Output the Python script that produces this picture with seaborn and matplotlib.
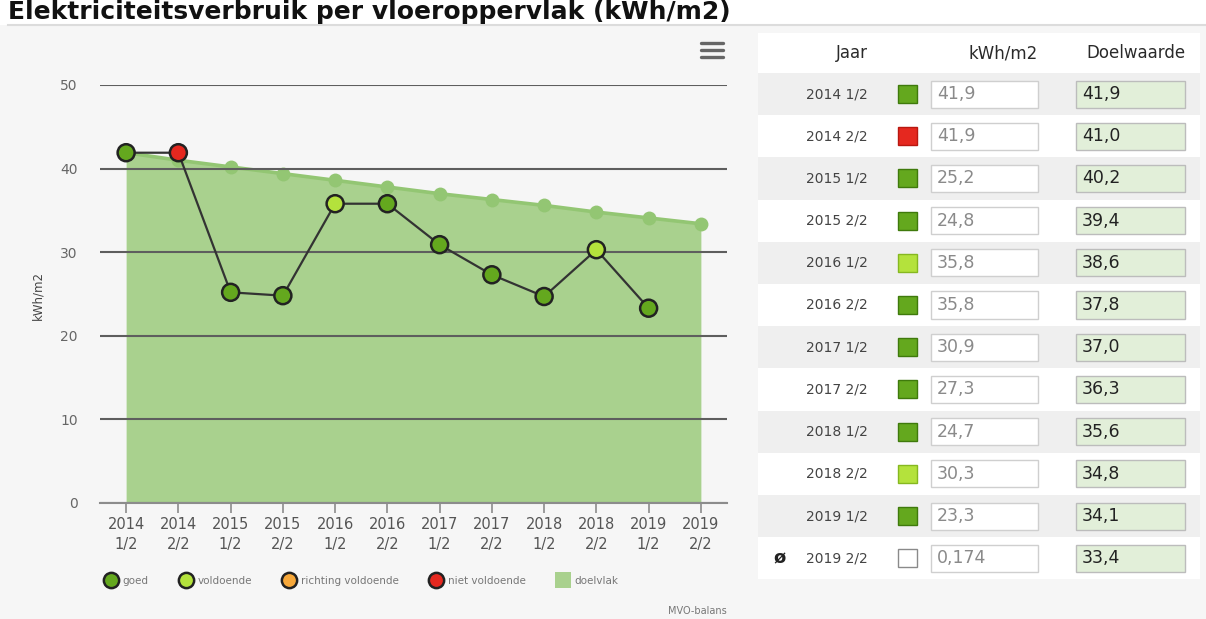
import numpy as np
import pandas as pd
import matplotlib
matplotlib.use("Agg")
import matplotlib.pyplot as plt
import seaborn as sns
from matplotlib.patches import Rectangle
from matplotlib.lines import Line2D

# ---------------- data ----------------
title = "Elektriciteitsverbruik per vloeroppervlak (kWh/m2)"
periods = ["2014 1/2", "2014 2/2", "2015 1/2", "2015 2/2", "2016 1/2", "2016 2/2",
           "2017 1/2", "2017 2/2", "2018 1/2", "2018 2/2", "2019 1/2", "2019 2/2"]
kwh = [41.9, 41.9, 25.2, 24.8, 35.8, 35.8, 30.9, 27.3, 24.7, 30.3, 23.3, 0.174]
doel = [41.9, 41.0, 40.2, 39.4, 38.6, 37.8, 37.0, 36.3, 35.6, 34.8, 34.1, 33.4]
status = ["goed", "niet voldoende", "goed", "goed", "voldoende", "goed",
          "goed", "goed", "goed", "voldoende", "goed", "verborgen"]
hidden = [False] * 11 + [True]
y_ticks = [0, 10, 20, 30, 40, 50]
legend_labels = ["goed", "voldoende", "richting voldoende", "niet voldoende", "doelvlak"]
header = ["Jaar", "kWh/m2", "Doelwaarde"]

status_colors = {"goed": "#64a81e", "voldoende": "#b4e23c",
                 "richting voldoende": "#f7a83a", "niet voldoende": "#e5281f"}
status_edges = {"goed": "#3f7a0c", "voldoende": "#86b820",
                "niet voldoende": "#b81810", "verborgen": "#8a8a8a"}

# ---------------- figure ----------------
W, H = 1206, 619
BG = "#f6f6f6"
fig = plt.figure(figsize=(W / 100, H / 100), dpi=100, facecolor=BG)


def fx(p):
    return p / W


def fy(p):
    return 1 - p / H


# title strip
fig.add_artist(Rectangle((0, fy(25)), 1, fy(0) - fy(25), transform=fig.transFigure,
                         facecolor="white", edgecolor="none", zorder=0))
fig.add_artist(Line2D([fx(8), 1], [fy(25), fy(25)], transform=fig.transFigure,
                      color="#dcdcdc", lw=1.5))
fig.text(fx(8), fy(19), title, fontsize=18, fontweight="bold", color="#111111",
         va="baseline", ha="left")

# ---------------- chart ----------------
ax = fig.add_axes([fx(100), fy(503), fx(727) - fx(100), fy(85) - fy(503)])
ax.set_facecolor("none")

df = pd.DataFrame({"x": np.arange(len(periods)), "period": periods, "kwh": kwh,
                   "doel": doel, "status": status, "hidden": hidden})

ax.fill_between(df["x"], 0, df["doel"], color="#8fc56b", alpha=0.75, lw=0, zorder=1)
sns.lineplot(data=df, x="x", y="doel", ax=ax, color="#93c673", lw=2.6,
             marker="o", markersize=10, markeredgewidth=0, zorder=2)

shown = df[~df["hidden"]]
sns.lineplot(data=shown, x="x", y="kwh", ax=ax, color="#333333", lw=1.6, zorder=4)
sns.scatterplot(data=shown, x="x", y="kwh", hue="status", palette=status_colors,
                s=150, edgecolor="#222222", linewidth=1.8, ax=ax, zorder=5, legend=False)

ax.set_xlim(-0.5, len(periods) - 0.5)
ax.set_ylim(0, 50)
ax.set_yticks(y_ticks)
ax.set_xticks(df["x"])
ax.set_xticklabels([p.replace(" ", "\n") for p in periods], linespacing=1.45)
ax.set_xlabel("")
ax.set_ylabel("")
ax.yaxis.grid(True, color="#5e5e5e", lw=1.5)
ax.set_axisbelow(False)
for s in ["top", "right", "left"]:
    ax.spines[s].set_visible(False)
ax.spines["bottom"].set_color("#8c8c8c")
ax.spines["bottom"].set_linewidth(1.5)
ax.spines["bottom"].set_zorder(3)
ax.tick_params(axis="y", length=0, pad=16, labelsize=10, labelcolor="#666666")
ax.tick_params(axis="x", length=7, width=1.2, color="#8c8c8c", pad=3,
               labelsize=10.5, labelcolor="#555555")

fig.text(fx(38), fy(295), "kWh/m2", rotation=90, ha="center", va="center",
         fontsize=8.5, color="#444444")

# legend
handles = []
for lab in legend_labels[:4]:
    handles.append(Line2D([], [], marker="o", linestyle="none", markersize=11,
                          markerfacecolor=status_colors[lab],
                          markeredgecolor="#222222", markeredgewidth=1.8))
handles.append(Line2D([], [], marker="s", linestyle="none", markersize=12,
                      markerfacecolor="#a9d18e", markeredgewidth=0))
fig.legend(handles, legend_labels, ncol=5, loc="center left",
           bbox_to_anchor=(fx(104), fy(581)), frameon=False, fontsize=7.5,
           labelcolor="#777777", handletextpad=0.5, columnspacing=2.9,
           handlelength=1.3, borderpad=0, borderaxespad=0)

fig.text(fx(727), fy(611), "MVO-balans", ha="right", va="center", fontsize=7,
         color="#777777")

# menu icon
for yy in (43, 50, 57):
    fig.add_artist(Line2D([fx(701), fx(723)], [fy(yy), fy(yy)], transform=fig.transFigure,
                          color="#666666", lw=2.4, solid_capstyle="round"))

# ---------------- table ----------------
tx0, tx1 = 758, 1200
fig.add_artist(Rectangle((fx(tx0), fy(73)), fx(tx1) - fx(tx0), fy(33) - fy(73),
                         transform=fig.transFigure, facecolor="white", edgecolor="none"))
hy = 53
fig.text(fx(868), fy(hy), header[0], ha="right", va="center", fontsize=12,
         color="#2a2a2a", fontweight="medium")
fig.text(fx(1038), fy(hy), header[1], ha="right", va="center", fontsize=12,
         color="#2a2a2a", fontweight="medium")
fig.text(fx(1185), fy(hy), header[2], ha="right", va="center", fontsize=12,
         color="#2a2a2a", fontweight="medium")


def fmt(v):
    return str(v).replace(".", ",")


row_h = 42.2
for i, per in enumerate(periods):
    cy = 94 + row_h * i
    top = cy - row_h / 2
    rc = "#efefef" if i % 2 == 0 else "white"
    fig.add_artist(Rectangle((fx(tx0), fy(top + row_h)), fx(tx1) - fx(tx0),
                             fy(top) - fy(top + row_h), transform=fig.transFigure,
                             facecolor=rc, edgecolor="none"))
    fig.text(fx(868), fy(cy), per, ha="right", va="center", fontsize=10, color="#444444")
    if hidden[i]:
        fig.text(fx(779), fy(cy), "ø", ha="center", va="center", fontsize=13,
                 fontweight="bold", color="#222222")
    st = status[i]
    fc = status_colors.get(st, "white")
    fig.add_artist(Rectangle((fx(898), fy(cy + 9)), fx(917) - fx(898), fy(cy - 9) - fy(cy + 9),
                             transform=fig.transFigure, facecolor=fc,
                             edgecolor=status_edges[st], lw=1))
    fig.add_artist(Rectangle((fx(931), fy(cy + 13.5)), fx(1038) - fx(931),
                             fy(cy - 13.5) - fy(cy + 13.5), transform=fig.transFigure,
                             facecolor="white", edgecolor="#cfcfcf", lw=1))
    fig.text(fx(937), fy(cy), fmt(kwh[i]), ha="left", va="center", fontsize=12.5,
             color="#8a8a8a")
    fig.add_artist(Rectangle((fx(1076), fy(cy + 13.5)), fx(1185) - fx(1076),
                             fy(cy - 13.5) - fy(cy + 13.5), transform=fig.transFigure,
                             facecolor="#e2efd9", edgecolor="#bcbcbc", lw=1))
    fig.text(fx(1082), fy(cy), fmt(doel[i]), ha="left", va="center", fontsize=12.5,
             color="#222222")

fig.savefig("out.png", dpi=100, facecolor=BG)
